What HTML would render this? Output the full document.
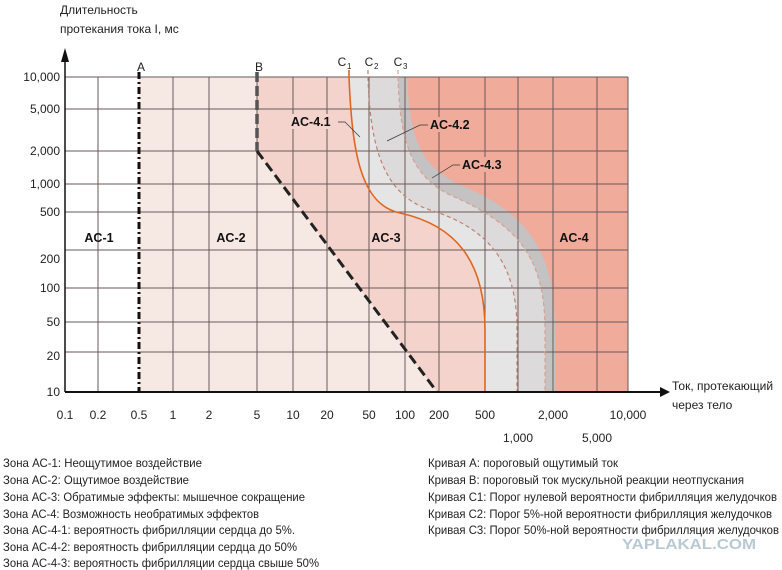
<!DOCTYPE html>
<html><head><meta charset="utf-8"><style>
body{margin:0;background:#fff;width:782px;height:570px;overflow:hidden}
svg{display:block;font-family:"Liberation Sans","Noto Sans CJK SC",sans-serif}
.t{font-size:12px;fill:#222}
.b{font-size:12.5px;font-weight:bold;fill:#111}
</style></head><body>
<svg width="782" height="570" viewBox="0 0 782 570">
<rect x="139" y="77" width="489" height="315" fill="#f6e9e4"/>
<path d="M257,77 L257,151 L437,392 L628,392 L628,77Z" fill="#f3d3cb"/>
<path d="M349,77 C352,150 360,205 400,213 C455,225 485,260 485,330 L485,392 L628,392 L628,77Z" fill="#e6e5e5"/>
<path d="M368,77 C370,150 385,195 430,210 C495,230 517,270 517,330 L517,392 L628,392 L628,77Z" fill="#dcdada"/>
<path d="M398,77 C400,140 410,175 450,195 C520,225 545,260 545,330 L545,392 L628,392 L628,77Z" fill="#c4c2c2"/>
<path d="M407,77 C410,140 420,165 460,185 C535,215 555,260 555,330 L555,392 L628,392 L628,77Z" fill="#f0ab9b"/>
<g stroke="#6a5a58" stroke-width="1" fill="none">
<path d="M65,77H628M65,109H628M65,151H628M65,184H628M65,212H628M65,250H628M65,288H628M65,322H628M65,352H628"/>
<path d="M98,77V392M173,77V392M209,77V392M257,77V392M293,77V392M327,77V392M369,77V392M405,77V392M439,77V392M485,77V392M518,77V392M553,77V392M597,77V392M628,77V392"/>
</g>
<path d="M349,70 L349,77 C352,150 360,205 400,213 C455,225 485,260 485,330 L485,392" fill="none" stroke="#e0661e" stroke-width="1.6"/>
<path d="M368,70 L368,77 C370,150 385,195 430,210 C495,230 517,270 517,330 L517,392" fill="none" stroke="#c08070" stroke-width="1.2" stroke-dasharray="4,3"/>
<path d="M398,70 L398,77 C400,140 410,175 450,195 C520,225 545,260 545,330 L545,392" fill="none" stroke="#d9a090" stroke-width="1.2" stroke-dasharray="4,3"/>
<path d="M139,72V392" stroke="#111" stroke-width="3" stroke-dasharray="7,3,2,3"/>
<path d="M257,72V151" stroke="#555" stroke-width="3.5" stroke-dasharray="10,4"/>
<path d="M257,151L437,392" stroke="#222" stroke-width="3" fill="none" stroke-dasharray="10,5"/>
<path d="M65,392H660" stroke="#111" stroke-width="2"/>
<path d="M660,387L670,392L660,397Z" fill="#111"/>
<path d="M65,392V58" stroke="#111" stroke-width="1.5"/>
<path d="M61,62L65,48L69,62Z" fill="#111"/>
<g class="t" font-size="13" text-anchor="end">
<text x="60" y="81">10,000</text><text x="60" y="113">5,000</text><text x="60" y="155">2,000</text><text x="60" y="188">1,000</text><text x="60" y="216">500</text><text x="60" y="263">200</text><text x="60" y="292">100</text><text x="60" y="326">50</text><text x="60" y="360">20</text><text x="60" y="396">10</text>
</g>
<g class="t" font-size="13" text-anchor="middle">
<text x="65" y="419">0.1</text><text x="98" y="419">0.2</text><text x="139" y="419">0.5</text><text x="173" y="419">1</text><text x="209" y="419">2</text><text x="257" y="419">5</text><text x="293" y="419">10</text><text x="327" y="419">20</text><text x="369" y="419">50</text><text x="405" y="419">100</text><text x="439" y="419">200</text><text x="485" y="419">500</text><text x="553" y="419">2,000</text><text x="628" y="419">10,000</text>
<text x="518" y="442">1,000</text><text x="597" y="442">5,000</text>
<text x="141" y="71">A</text><text x="259" y="71">B</text>
<text x="342" y="66">C</text><text x="369" y="66">C</text><text x="398" y="66">C</text>
</g>
<g font-size="8" fill="#222"><text x="347" y="69">1</text><text x="374" y="69">2</text><text x="403" y="69">3</text></g>
<text class="t" x="60" y="14">Длительность</text>
<text class="t" x="60" y="33">протекания тока I, мс</text>
<text class="t" x="672" y="390">Ток, протекающий</text>
<text class="t" x="672" y="409">через тело</text>
<g class="b" text-anchor="middle">
<text x="99" y="242">AC-1</text><text x="231" y="242">AC-2</text><text x="386" y="242">AC-3</text><text x="574" y="242">AC-4</text>
</g>
<g class="b">
<rect x="289" y="114" width="48" height="15" fill="#f3d3cb"/><text x="291" y="126">AC-4.1</text>
<rect x="429" y="117" width="48" height="15" fill="#f0ab9b"/><text x="430" y="129">AC-4.2</text>
<rect x="461" y="157" width="48" height="15" fill="#f0ab9b"/><text x="462" y="169">AC-4.3</text>
</g>
<g stroke="#333" stroke-width="0.7" fill="none">
<path d="M338,122H345L360,137"/><path d="M428,125H420L387,141"/><path d="M460,165H453L432,178"/>
</g>
<g class="t" font-size="12.5">
<text x="3" y="467" textLength="199" lengthAdjust="spacingAndGlyphs">Зона АС-1: Неощутимое воздействие</text>
<text x="3" y="484" textLength="186" lengthAdjust="spacingAndGlyphs">Зона АС-2: Ощутимое воздействие</text>
<text x="3" y="501" textLength="302" lengthAdjust="spacingAndGlyphs">Зона АС-3: Обратимые эффекты: мышечное сокращение</text>
<text x="3" y="518" textLength="256" lengthAdjust="spacingAndGlyphs">Зона АС-4: Возможность необратимых эффектов</text>
<text x="3" y="534" textLength="292" lengthAdjust="spacingAndGlyphs">Зона АС-4-1: вероятность фибрилляции сердца до 5%.</text>
<text x="3" y="551" textLength="294" lengthAdjust="spacingAndGlyphs">Зона АС-4-2: вероятность фибрилляции сердца до 50%</text>
<text x="3" y="567" textLength="316" lengthAdjust="spacingAndGlyphs">Зона АС-4-3: вероятность фибрилляции сердца свыше 50%</text>
<text x="428" y="467" textLength="190" lengthAdjust="spacingAndGlyphs">Кривая А: пороговый ощутимый ток</text>
<text x="428" y="484" textLength="316" lengthAdjust="spacingAndGlyphs">Кривая В: пороговый ток мускульной реакции неотпускания</text>
<text x="428" y="501" textLength="349" lengthAdjust="spacingAndGlyphs">Кривая С1: Порог нулевой вероятности фибрилляция желудочков</text>
<text x="428" y="518" textLength="344" lengthAdjust="spacingAndGlyphs">Кривая С2: Порог 5%-ной вероятности фибрилляция желудочков</text>
<text x="428" y="534" textLength="351" lengthAdjust="spacingAndGlyphs">Кривая С3: Порог 50%-ной вероятности фибрилляция желудочков</text>
</g>
<text x="622" y="549" font-size="15" font-weight="bold" fill="#b9c9d3" textLength="134" lengthAdjust="spacingAndGlyphs">YAPLAKAL.COM</text>
</svg>
</body></html>
